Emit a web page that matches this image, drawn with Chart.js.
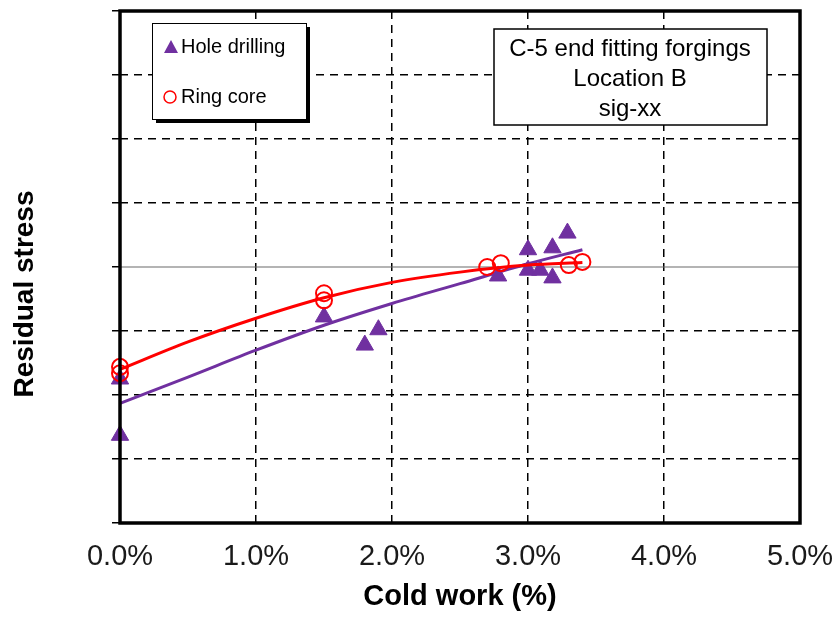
<!DOCTYPE html>
<html>
<head>
<meta charset="utf-8">
<script src="https://cdn.jsdelivr.net/npm/chart.js@4.4.1/dist/chart.umd.min.js"></script>
<style>
  html, body { margin: 0; padding: 0; background: #fff; }
  #wrap { width: 835px; height: 618px; }
</style>
</head>
<body>
<div id="wrap"><canvas id="mycanvas_stress" width="835" height="618"></canvas></div>
<script>
// values (x in % cold work, y in grid units, 0 = solid line)
var hole_x = [0.0, 0.0, 1.5, 1.8, 1.9, 2.78, 3.0, 3.0, 3.09, 3.18, 3.18, 3.29];
var hole_y = [-2.63, -1.75, -0.78, -1.22, -0.98, -0.14, 0.27, -0.05, -0.05, 0.30, -0.17, 0.53];

var ring_x = [0.0, 0.0, 1.5, 1.5, 2.7, 2.8, 3.3, 3.4];
var ring_y = [-1.56, -1.66, -0.41, -0.52, 0.0, 0.06, 0.03, 0.08];

// trend lines, read at these x positions
var fit_x = [0.0, 0.5, 1.0, 1.5, 2.0, 2.5, 3.0, 3.4];
var fit_ring = [-1.60, -1.17, -0.80, -0.48, -0.24, -0.08, 0.03, 0.07];
var fit_hole = [-2.13, -1.72, -1.30, -0.91, -0.57, -0.26, 0.05, 0.27];

var legend_labels = ['Hole drilling', 'Ring core'];
var note_lines = ['C-5 end fitting forgings', 'Location B', 'sig-xx'];
var x_title = 'Cold work (%)';
var y_title = 'Residual stress';

var PURPLE = '#7030A0';
var RED = '#FF0000';
var FONT = '"Liberation Sans", Arial, sans-serif';

function pts(xs, ys) {
    var out = [];
    for (var i = 0; i < xs.length; i++) out.push({x: xs[i], y: ys[i]});
    return out;
}

var extras = {
    id: 'extras',
    beforeDatasetsDraw: function (chart) {
        var ctx = chart.ctx;
        var a = chart.chartArea;
        var y0 = chart.scales.y.getPixelForValue(0);
        ctx.save();
        ctx.strokeStyle = '#6b6b6b';
        ctx.lineWidth = 1.2;
        ctx.beginPath();
        ctx.moveTo(a.left, y0);
        ctx.lineTo(a.right, y0);
        ctx.stroke();
        ctx.restore();
    },
    afterDraw: function (chart) {
        var ctx = chart.ctx;
        var a = chart.chartArea;
        ctx.save();
        // frame
        ctx.strokeStyle = '#000';
        ctx.lineWidth = 3.5;
        ctx.strokeRect(a.left, a.top, a.right - a.left, a.bottom - a.top);

        // legend box with shadow
        ctx.fillStyle = '#000';
        ctx.fillRect(156, 27, 154, 96);
        ctx.fillStyle = '#fff';
        ctx.fillRect(152, 23, 154, 96);
        ctx.lineWidth = 1;
        ctx.strokeRect(152.5, 23.5, 154, 96);

        ctx.fillStyle = PURPLE;
        ctx.beginPath();
        ctx.moveTo(171, 40);
        ctx.lineTo(178, 53);
        ctx.lineTo(164, 53);
        ctx.closePath();
        ctx.fill();

        ctx.strokeStyle = RED;
        ctx.lineWidth = 1.5;
        ctx.beginPath();
        ctx.arc(170, 97, 6, 0, Math.PI * 2);
        ctx.stroke();

        ctx.fillStyle = '#000';
        ctx.font = '20px ' + FONT;
        ctx.textBaseline = 'middle';
        ctx.textAlign = 'left';
        ctx.fillText(legend_labels[0], 181, 47);
        ctx.fillText(legend_labels[1], 181, 97);

        // note box
        ctx.fillStyle = '#fff';
        ctx.fillRect(494, 29, 273, 96);
        ctx.strokeStyle = '#000';
        ctx.lineWidth = 1.5;
        ctx.strokeRect(494, 29, 273, 96);
        ctx.fillStyle = '#000';
        ctx.font = '24px ' + FONT;
        ctx.textAlign = 'center';
        for (var i = 0; i < note_lines.length; i++) {
            ctx.fillText(note_lines[i], 630, 49 + i * 30);
        }

        // y axis title
        ctx.translate(25, 294);
        ctx.rotate(-Math.PI / 2);
        ctx.font = 'bold 28px ' + FONT;
        ctx.fillText(y_title, 0, 0);
        ctx.restore();
    }
};

var ctx_stress = document.getElementById('mycanvas_stress').getContext('2d');
var myChart_stress = new Chart(ctx_stress, {
    type: 'scatter',
    data: {
        datasets: [{
            label: 'Ring core fit',
            data: pts(fit_x, fit_ring),
            showLine: true,
            borderColor: RED,
            borderWidth: 3,
            pointRadius: 0,
            cubicInterpolationMode: 'monotone',
            clip: false,
            order: 0
        }, {
            label: legend_labels[1],
            data: pts(ring_x, ring_y),
            pointStyle: 'circle',
            pointRadius: 8,
            borderColor: RED,
            backgroundColor: 'rgba(0,0,0,0)',
            borderWidth: 2,
            clip: false,
            order: 1
        }, {
            label: 'Hole drilling fit',
            data: pts(fit_x, fit_hole),
            showLine: true,
            borderColor: PURPLE,
            borderWidth: 3,
            pointRadius: 0,
            cubicInterpolationMode: 'monotone',
            clip: false,
            order: 2
        }, {
            label: legend_labels[0],
            data: pts(hole_x, hole_y),
            pointStyle: 'triangle',
            pointRadius: 10,
            borderColor: PURPLE,
            backgroundColor: PURPLE,
            borderWidth: 1,
            clip: false,
            order: 3
        }]
    },
    options: {
        responsive: false,
        animation: false,
        layout: { padding: { top: 11, right: 0, left: 0, bottom: 0 } },
        plugins: {
            legend: { display: false },
            tooltip: { enabled: false }
        },
        scales: {
            x: {
                type: 'linear',
                min: 0,
                max: 5,
                afterFit: function (s) { s.height = 95; s.paddingRight = 35; },
                border: { display: false, dash: [8, 6] },
                grid: {
                    color: '#000',
                    lineWidth: 1.5,
                    drawTicks: false
                },
                ticks: {
                    stepSize: 1,
                    padding: 17,
                    color: '#1a1a1a',
                    font: { family: FONT, size: 29 },
                    callback: function (v) { return v.toFixed(1) + '%'; }
                },
                title: {
                    display: true,
                    text: x_title,
                    color: '#000',
                    font: { family: FONT, size: 29, weight: 'bold' },
                    padding: { top: 2 }
                }
            },
            y: {
                type: 'linear',
                min: -4,
                max: 4,
                afterFit: function (s) { s.width = 120; },
                border: { display: false, dash: [8, 6] },
                grid: {
                    color: function (c) { return c.tick && c.tick.value === 0 ? 'rgba(0,0,0,0)' : '#000'; },
                    lineWidth: 1.5,
                    drawTicks: true,
                    tickLength: 8,
                    tickColor: '#000',
                    tickWidth: 1.5,
                    tickBorderDash: []
                },
                ticks: { stepSize: 1, display: false }
            }
        }
    },
    plugins: [extras]
});
</script>
</body>
</html>
